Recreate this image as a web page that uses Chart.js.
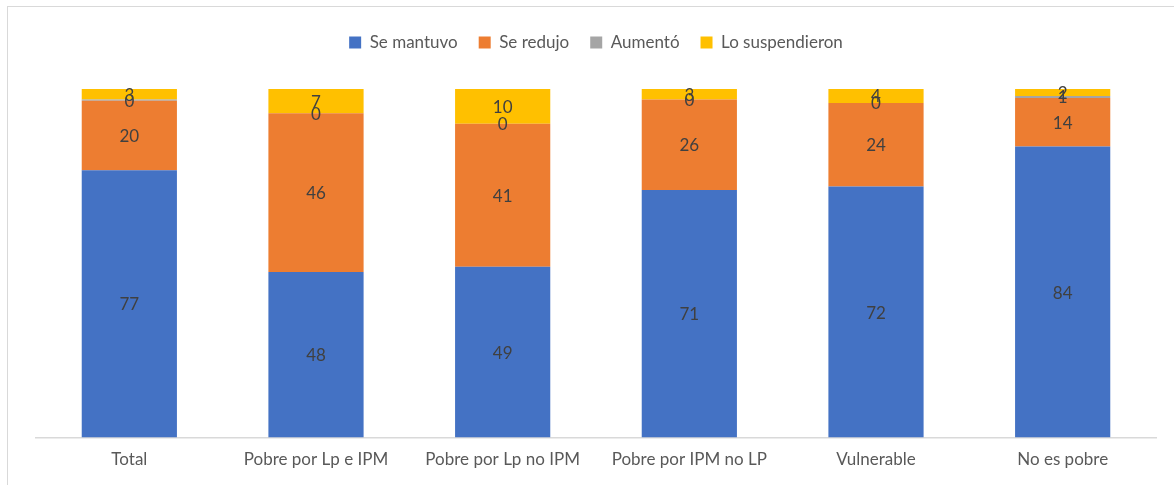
<!DOCTYPE html>
<html>
<head>
<meta charset="utf-8">
<script src="https://cdn.jsdelivr.net/npm/chart.js@4"></script>
<style>
html,body{margin:0;padding:0;background:#fff;overflow:hidden;}
#frame{position:absolute;left:7px;top:6px;width:1300px;height:600px;border:1px solid #d9d9d9;box-sizing:border-box;}
#wrap{position:absolute;left:0;top:0;width:1174px;height:485px;}
</style>
</head>
<body>
<div id="frame"></div>
<div id="wrap"><canvas id="c" width="1174" height="485"></canvas></div>
<script>
const categories = ["Total","Pobre por Lp e IPM","Pobre por Lp no IPM","Pobre por IPM no LP","Vulnerable","No es pobre"];
const seMantuvo = [77,48,49,71,72,84];
const seRedujo = [20,46,41,26,24,14];
const aumento = [0.4,0,0,0,0,0.6];
const loSuspendieron = [3,7,10,3,4,2];
const seriesNames = ["Se mantuvo","Se redujo","Aumentó","Lo suspendieron"];
const seriesColors = ["#4472C4","#ED7D31","#A5A5A5","#FFC000"];

const raw = [seMantuvo, seRedujo, aumento, loSuspendieron];
const totals = categories.map((_, i) => raw.reduce((s, arr) => s + arr[i], 0));
const pct = raw.map(arr => arr.map((v, i) => v / totals[i] * 100));

const FONT = "Lato, 'Open Sans', sans-serif";

const legendSpace = {
  id: 'legendSpace',
  beforeInit(chart) {
    const orig = chart.legend.fit;
    chart.legend.fit = function () {
      orig.bind(chart.legend)();
      this.height += 28;
    };
  }
};

const labelPlugin = {
  id: 'segLabels',
  afterDatasetsDraw(chart) {
    const ctx = chart.ctx;
    ctx.save();
    ctx.font = "17px " + FONT;
    ctx.fillStyle = "#404040";
    ctx.textAlign = "center";
    ctx.textBaseline = "middle";
    chart.data.datasets.forEach((ds, di) => {
      const meta = chart.getDatasetMeta(di);
      meta.data.forEach((bar, i) => {
        const y = (bar.y + bar.base) / 2;
        ctx.fillText(String(Math.round(raw[di][i])), bar.x, y + 1);
      });
    });
    ctx.restore();
  }
};

new Chart(document.getElementById('c'), {
  type: 'bar',
  data: {
    labels: categories,
    datasets: seriesNames.map((n, k) => ({
      label: n,
      data: pct[k],
      backgroundColor: seriesColors[k],
      borderWidth: 0,
      barPercentage: 0.51,
      categoryPercentage: 1
    }))
  },
  options: {
    responsive: false,
    animation: false,
    devicePixelRatio: 1,
    layout: { padding: { top: 13, left: 36, right: 18, bottom: 3 } },
    plugins: {
      legend: {
        position: 'top',
        labels: {
          font: { size: 17, family: FONT },
          color: '#595959',
          boxWidth: 12,
          boxHeight: 12,
          padding: 21
        }
      },
      tooltip: { enabled: false }
    },
    scales: {
      x: {
        stacked: true,
        grid: { display: false, drawTicks: false },
        border: { color: '#d9d9d9', width: 1.5 },
        ticks: { font: { size: 17, family: FONT }, color: '#595959', padding: 12 }
      },
      y: {
        stacked: true,
        min: 0, max: 100,
        display: false
      }
    }
  },
  plugins: [legendSpace, labelPlugin]
});
</script>
</body>
</html>
